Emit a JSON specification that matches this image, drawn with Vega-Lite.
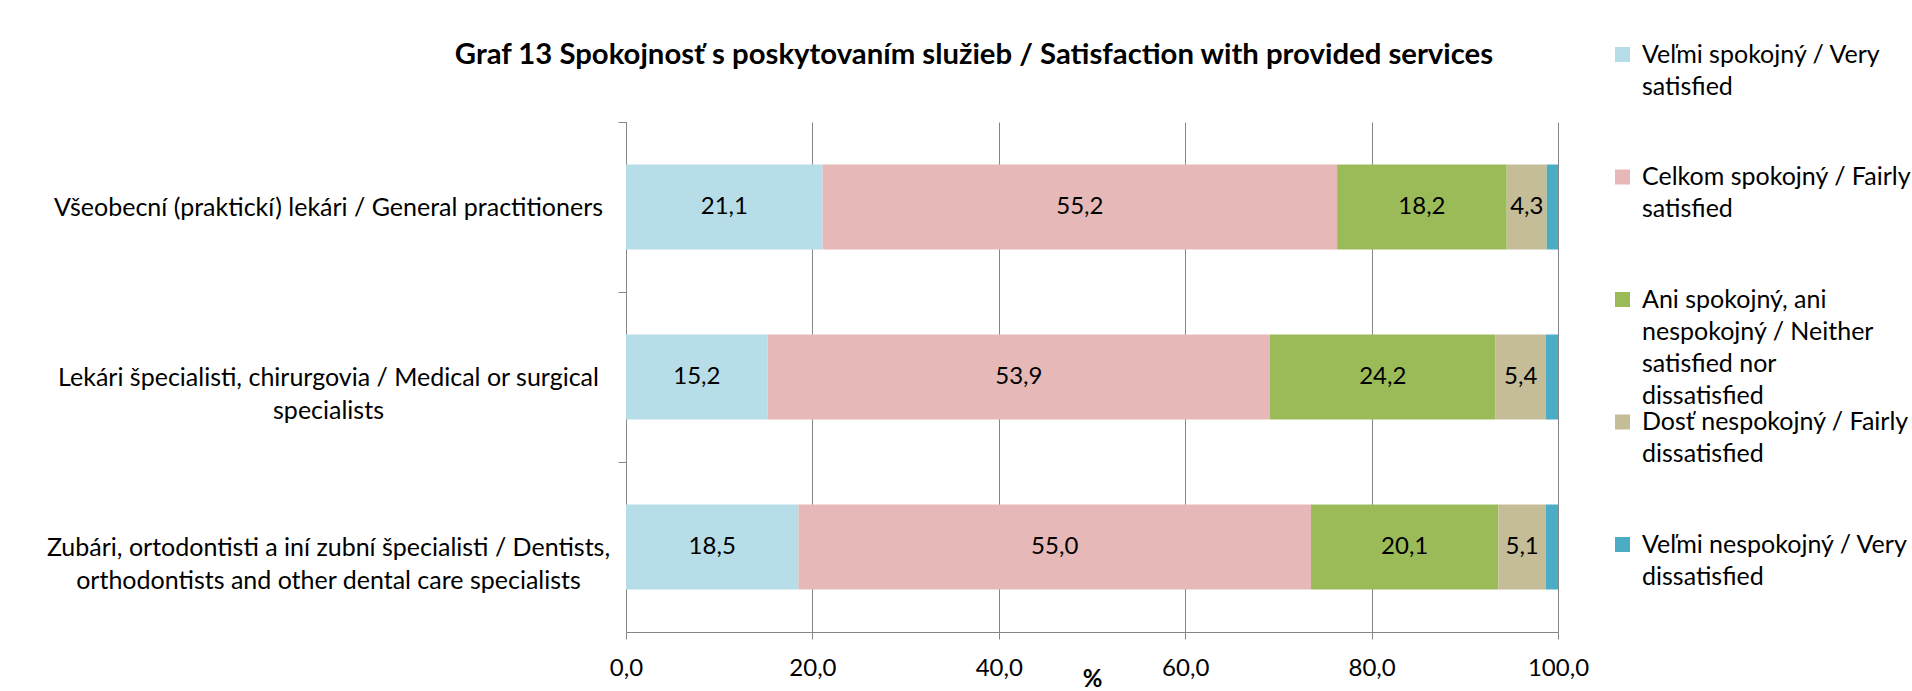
{
  "$schema": "https://vega.github.io/schema/vega-lite/v6.json",
  "width": 932,
  "height": 510,
  "autosize": {"type": "none"},
  "padding": {"left": 626, "top": 122, "right": 354, "bottom": 59},
  "background": "white",
  "config": {
    "locale": {"number": {"decimal": ",", "thousands": " ", "grouping": [3], "currency": ["", " €"]}},
    "font": "Lato",
    "view": {"stroke": null}
  },
  "title": {
    "text": "Graf 13 Spokojnosť s poskytovaním služieb / Satisfaction with provided services",
    "font": "Lato", "fontSize": 29.3, "fontWeight": "bold", "color": "black",
    "anchor": "middle", "frame": "group", "dx": -118, "offset": -51, "baseline": "alphabetic"
  },
  "data": {"values": [
    {"cat": "Všeobecní (praktickí) lekári / General practitioners", "level": "Veľmi spokojný / Very satisfied", "value": 21.1},
    {"cat": "Všeobecní (praktickí) lekári / General practitioners", "level": "Celkom spokojný / Fairly satisfied", "value": 55.2},
    {"cat": "Všeobecní (praktickí) lekári / General practitioners", "level": "Ani spokojný, ani nespokojný / Neither satisfied nor dissatisfied", "value": 18.2},
    {"cat": "Všeobecní (praktickí) lekári / General practitioners", "level": "Dosť nespokojný / Fairly dissatisfied", "value": 4.3},
    {"cat": "Všeobecní (praktickí) lekári / General practitioners", "level": "Veľmi nespokojný / Very dissatisfied", "value": 1.2},
    {"cat": "Lekári špecialisti, chirurgovia / Medical or surgical specialists", "level": "Veľmi spokojný / Very satisfied", "value": 15.2},
    {"cat": "Lekári špecialisti, chirurgovia / Medical or surgical specialists", "level": "Celkom spokojný / Fairly satisfied", "value": 53.9},
    {"cat": "Lekári špecialisti, chirurgovia / Medical or surgical specialists", "level": "Ani spokojný, ani nespokojný / Neither satisfied nor dissatisfied", "value": 24.2},
    {"cat": "Lekári špecialisti, chirurgovia / Medical or surgical specialists", "level": "Dosť nespokojný / Fairly dissatisfied", "value": 5.4},
    {"cat": "Lekári špecialisti, chirurgovia / Medical or surgical specialists", "level": "Veľmi nespokojný / Very dissatisfied", "value": 1.3},
    {"cat": "Zubári, ortodontisti a iní zubní špecialisti / Dentists, orthodontists and other dental care specialists", "level": "Veľmi spokojný / Very satisfied", "value": 18.5},
    {"cat": "Zubári, ortodontisti a iní zubní špecialisti / Dentists, orthodontists and other dental care specialists", "level": "Celkom spokojný / Fairly satisfied", "value": 55.0},
    {"cat": "Zubári, ortodontisti a iní zubní špecialisti / Dentists, orthodontists and other dental care specialists", "level": "Ani spokojný, ani nespokojný / Neither satisfied nor dissatisfied", "value": 20.1},
    {"cat": "Zubári, ortodontisti a iní zubní špecialisti / Dentists, orthodontists and other dental care specialists", "level": "Dosť nespokojný / Fairly dissatisfied", "value": 5.1},
    {"cat": "Zubári, ortodontisti a iní zubní špecialisti / Dentists, orthodontists and other dental care specialists", "level": "Veľmi nespokojný / Very dissatisfied", "value": 1.3}
  ]},
  "transform": [
    {"calculate": "indexof(['Veľmi spokojný / Very satisfied','Celkom spokojný / Fairly satisfied','Ani spokojný, ani nespokojný / Neither satisfied nor dissatisfied','Dosť nespokojný / Fairly dissatisfied','Veľmi nespokojný / Very dissatisfied'], datum.level)", "as": "k"}
  ],
  "layer": [
    {
      "mark": {"type": "bar"},
      "encoding": {
        "y": {
          "field": "cat", "type": "nominal", "sort": null,
          "scale": {"paddingInner": 0.5, "paddingOuter": 0.25},
          "axis": {
            "title": null, "domainColor": "#868686", "tickColor": "#868686", "tickSize": 8,
            "tickOffset": -85, "labelOffset": 85,
            "labelAlign": "center", "labelBaseline": "middle", "labelPadding": 290,
            "labelFont": "Lato", "labelFontSize": 25, "labelColor": "black", "labelLimit": 2000,
            "labelLineHeight": 33, "grid": false,
            "labelExpr": "datum.label == 'Lekári špecialisti, chirurgovia / Medical or surgical specialists' ? ['Lekári špecialisti, chirurgovia / Medical or surgical', 'specialists'] : datum.label == 'Zubári, ortodontisti a iní zubní špecialisti / Dentists, orthodontists and other dental care specialists' ? ['Zubári, ortodontisti a iní zubní špecialisti / Dentists,', 'orthodontists and other dental care specialists'] : datum.label",
            "encode": {"labels": {"update": {"dy": {"signal": "datum.value == 'Všeobecní (praktickí) lekári / General practitioners' ? 2 : -14"}}}}
          }
        },
        "x": {
          "field": "value", "type": "quantitative", "stack": "zero",
          "scale": {"domain": [0, 100], "nice": false},
          "axis": {
            "title": "%", "titleFont": "Lato", "titleFontWeight": "bold", "titleFontSize": 24, "titleColor": "black",
            "titlePadding": -13,
            "values": [0, 20, 40, 60, 80, 100], "format": ".1f",
            "labelFont": "Lato", "labelFontSize": 24, "labelColor": "black", "labelPadding": 17, "labelFlush": false,
            "tickSize": 7, "tickColor": "#868686", "domainColor": "#868686",
            "grid": true, "gridColor": "#868686", "gridOpacity": 1
          }
        },
        "color": {
          "field": "level", "type": "nominal",
          "scale": {
            "domain": ["Veľmi spokojný / Very satisfied", "Celkom spokojný / Fairly satisfied", "Ani spokojný, ani nespokojný / Neither satisfied nor dissatisfied", "Dosť nespokojný / Fairly dissatisfied", "Veľmi nespokojný / Very dissatisfied"],
            "range": ["#B7DEE8", "#E6B9B8", "#9BBB59", "#C4BD97", "#4BACC6"]
          },
          "legend": {
            "orient": "none", "legendX": 984, "legendY": -80, "title": null, "direction": "vertical",
            "symbolType": "square", "symbolSize": 225, "symbolStrokeWidth": 0,
            "labelFont": "Lato", "labelFontSize": 25, "labelColor": "black", "labelLimit": 2000,
            "labelOffset": 7, "rowPadding": 0.5, "padding": 0, "labelBaseline": "middle",
            "labelExpr": "datum.label == 'Veľmi spokojný / Very satisfied' ? ['Veľmi spokojný / Very','satisfied',' ',' '] : datum.label == 'Celkom spokojný / Fairly satisfied' ? ['Celkom spokojný / Fairly','satisfied',' ',' '] : datum.label == 'Ani spokojný, ani nespokojný / Neither satisfied nor dissatisfied' ? ['Ani spokojný, ani','nespokojný / Neither','satisfied nor','dissatisfied'] : datum.label == 'Dosť nespokojný / Fairly dissatisfied' ? ['Dosť nespokojný / Fairly','dissatisfied',' ',' '] : ['Veľmi nespokojný / Very','dissatisfied',' ',' ']",
            "encode": {"labels": {"update": {"lineHeight": {"value": 32}}}}
          }
        },
        "order": {"field": "k", "type": "quantitative"}
      }
    },
    {
      "transform": [{"filter": "datum.k < 4"}],
      "mark": {"type": "text", "font": "Lato", "fontSize": 24, "color": "black", "baseline": "middle", "align": "center"},
      "encoding": {
        "y": {"field": "cat", "type": "nominal", "sort": null},
        "x": {"field": "value", "type": "quantitative", "stack": "zero", "bandPosition": 0.5},
        "detail": {"field": "level", "type": "nominal"},
        "text": {"field": "value", "type": "quantitative", "format": ".1f"},
        "order": {"field": "k", "type": "quantitative"}
      }
    }
  ]
}
